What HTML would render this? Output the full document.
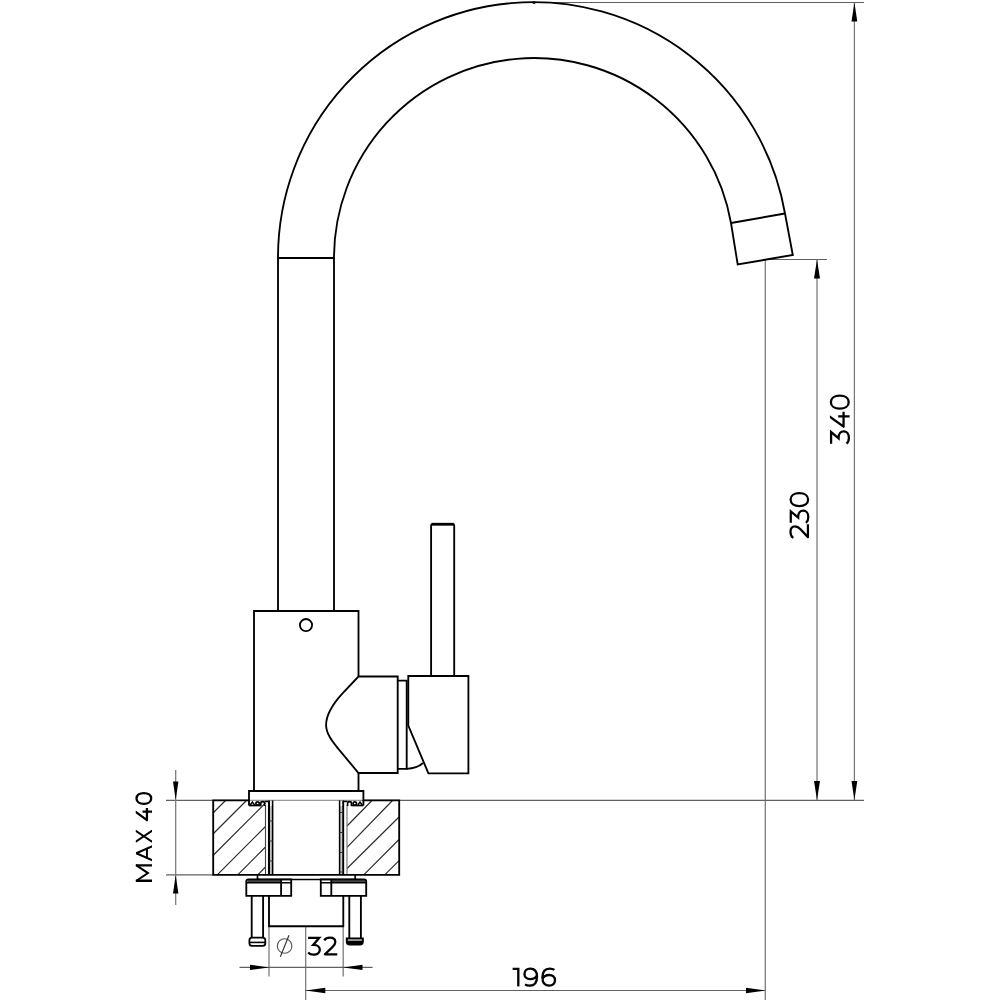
<!DOCTYPE html>
<html><head><meta charset="utf-8">
<style>
html,body{margin:0;padding:0;background:#fff;}
body{width:1000px;height:1000px;overflow:hidden;font-family:"Liberation Sans",sans-serif;}
svg{display:block;position:absolute;left:0;top:0;}
.m{fill:none;stroke:#000;stroke-width:1.85;stroke-linejoin:miter;stroke-linecap:butt;}
.d{fill:none;stroke:#787878;stroke-width:1.25;}
.h{fill:none;stroke:#2a2a2a;stroke-width:1.15;}
.a{fill:#000;stroke:none;}
.g{fill:none;stroke:#000;stroke-width:11.5;stroke-linecap:butt;stroke-linejoin:round;}
</style></head><body>
<svg width="1000" height="1000" viewBox="0 0 1000 1000">
<defs>
<clipPath id="cf"><rect x="-30" y="0" width="200" height="100"/></clipPath>
</defs>
<rect width="1000" height="1000" fill="#fff"/>

<!-- dimension / extension lines -->
<g class="d">
<path stroke="#606060" stroke-width="1.15" d="M533 2.5H864"/>
<path d="M854.4 2.5V800"/>
<path stroke="#606060" stroke-width="1.15" d="M765 259.5H827"/>
<path d="M765.3 259V1000"/>
<path d="M817 259.5V800"/>
<path stroke="#606060" stroke-width="1.15" d="M166 800.4H250M362 800.4H864"/>
<path stroke="#999" stroke-width="1.1" d="M250 800.4H362"/>
<path stroke="#606060" stroke-width="1.15" d="M166 874.8H213"/>
<path d="M175.7 770V905"/>
<path d="M269 926V976.5"/>
<path d="M343.2 926V976.5"/>
<path d="M305.7 926V1000"/>
<path stroke="#606060" stroke-width="1.15" d="M239.5 967.4H372.5"/>
<path stroke="#606060" stroke-width="1.15" d="M305.5 990.5H765"/>
</g>
<!-- arrowheads -->
<g class="a">
<path d="M854.4 2.5L851.5 21.5H857.3Z"/>
<path d="M854.4 800L851.5 781H857.3Z"/>
<path d="M817 259.5L814 278.5H820Z"/>
<path d="M817 800L814 781H820Z"/>
<path d="M175.7 800L173 781.5H178.4Z"/>
<path d="M175.7 875L173 893.5H178.4Z"/>
<path d="M269 967.4L250 964.7V970.1Z"/>
<path d="M343.2 967.4L362.5 964.7V970.1Z"/>
<path d="M305.7 990.5L325.3 987.8V993.2Z"/>
<path d="M765 990.5L746 987.8V993.2Z"/>
</g>

<!-- spout -->
<g class="m">
<path d="M278 611V258A255.42 255.42 0 0 1 785 213.5L792.8 255L737.7 264.5L731 223A200.05 200.05 0 0 0 334 258V611"/>
<path d="M278 258H334"/>
<path d="M731 223L785 213.5"/>
<!-- body -->
<path d="M358.5 676.5V611H254V791H358.5V773"/>
<circle cx="306" cy="625.1" r="6.1" stroke-width="1.8"/>
<!-- cartridge housing -->
<path d="M358.5 676.5H397.7V773H358.5L337.5 747.8C332 741 326.1 733.5 326.1 725C326.1 713 334.8 701.6 343 692.8Z"/>
<!-- ring -->
<path d="M397.7 680.6H406.7V768.8H397.7"/>
<path d="M406.7 768.8Q417 768.5 423 763" stroke-width="1.8"/>
<!-- handle -->
<path d="M408.3 676H468.4V773.3H428.4L408.3 725.6Z"/>
<!-- lever -->
<path d="M431.1 676V525.6Q431.1 524.2 432.5 524.2H452.8Q454.2 524.2 454.2 525.6V676"/>
<path d="M431.6 524.2H453.7" stroke-width="2.7"/>
<!-- flange -->
<path d="M249 805.5V791H363.4V805.5"/>
</g>

<circle cx="534" cy="2.5" r="1.6" fill="#111"/>
<!-- counter top hatch -->
<g class="h">
<path d="M213 813L225.5 800.5M213 834L246.5 800.5M213 855.5L265.5 803M217.5 874.6L265.5 826.5M238 874.6L265.5 847M258 874.6L265.5 867"/>
<path d="M347 826L372 800.5M347 847.3L392.5 800.5M347 868.5L399 817M364 874.6L399 839.5M385 874.6L399 860.7"/>
<path d="M265.5 805V874.6" stroke="#444"/><path d="M347 805V874.6" stroke="#777"/>
</g>
<!-- thread gap fill -->
<rect x="269.5" y="806" width="3" height="68.5" fill="#ccc"/>
<rect x="340" y="806" width="3" height="68.5" fill="#ccc"/>
<g class="m">
<path d="M249 800.4H213.2V874.8H399.2V800.4H363.4"/>
<path d="M269 800.6V874.8" stroke-width="2.1"/>
<path d="M272.6 800.4V874.8" stroke-width="1.6"/>
<path d="M343.2 800.6V874.8" stroke-width="1.9"/>
<path d="M339.6 800.4V874.8" stroke-width="1.5"/>
<path d="M269 821H272.6M269 841H272.6M269 861H272.6M339.6 812.5H343.2M339.6 832.5H343.2M339.6 852.5H343.2M339.6 872H343.2" stroke-width="1" stroke="#333"/>
<!-- gasket -->
<path d="M249 805.5H261" stroke-width="1.7"/>
<path d="M250.2 805L252.4 802L254.6 805" stroke-width="1.4"/>
<circle cx="257.6" cy="803.5" r="1.7" stroke-width="1.7"/>
<path d="M260.8 806V803.2Q260.8 801.6 262.7 801.6Q264.6 801.6 264.6 803.2V806" stroke-width="1.6"/>
<path d="M265 801.5H269.5" stroke-width="1.4"/>
<path d="M363.4 805.5H351.4" stroke-width="1.7"/>
<path d="M362.2 805L360 802L357.8 805" stroke-width="1.4"/>
<circle cx="354.8" cy="803.5" r="1.7" stroke-width="1.7"/>
<path d="M351.4 806V803.2Q351.4 801.6 349.5 801.6Q347.6 801.6 347.6 803.2V806" stroke-width="1.6"/>
<path d="M347.3 801.5H343" stroke-width="1.4"/>
<!-- washer -->
<path d="M257.5 875V879.4M355.2 875V879.4" stroke-width="1.7"/>
<path d="M257 879.4H356" stroke-width="1.5"/>
<!-- nuts -->
<rect x="247.6" y="879.6" width="33" height="3" fill="#444" stroke="none"/>
<rect x="331.4" y="879.6" width="33.6" height="3" fill="#444" stroke="none"/>
<path d="M246.3 895.9V881.6Q246.3 879.4 248.5 879.4H291.2V895.9Z"/>
<path d="M246.3 882.8H291.2" stroke-width="1.5"/>
<path d="M281.1 880V895.9"/>
<path d="M366.2 895.9V881.6Q366.2 879.4 364 879.4H320.8V895.9Z"/>
<path d="M320.8 882.8H366.2" stroke-width="1.5"/>
<path d="M331.3 880V895.9"/>
<!-- shank -->
<path d="M269 895.9V926.2H343.3V895.9"/>
<!-- bolts -->
<path d="M251.7 895.9V937.6M263.1 895.9V937.6"/>
<rect x="249.4" y="937.7" width="15.9" height="8.2" rx="2.6" stroke-width="1.8"/>
<path d="M249.5 942.4H265.2" stroke-width="1.6"/>
<path d="M349.3 895.9V938M360.9 895.9V938"/>
<path d="M346.6 938.2H363V941.5Q363 944.6 360 944.6H349.6Q346.6 944.6 346.6 941.5Z" fill="#000" stroke-width="1.6"/>
<rect x="347.8" y="939.2" width="14" height="1.7" fill="#aaa" stroke="none"/>
</g>

<!-- diameter symbol -->
<g fill="none">
<circle cx="284.6" cy="946" r="7.3" stroke="#555" stroke-width="1.1"/>
<path d="M280.3 956.9L289 935.2" stroke="#333" stroke-width="1.2"/>
</g>

<!-- text drawn as stroked glyphs -->
<g class="g" transform="translate(849.7 444.3) rotate(-90) scale(0.198) translate(0 -100)">
<path d="M3,6H62L30,44H34C53,44 65.5,55 65.5,70C65.5,86 52,96 33,96C20,96 9,91 3,84" stroke-linejoin="miter"/><g transform="translate(82 0)"><g clip-path="url(#cf)"><path d="M60,-4L7,69H82M59,42V101"/></g></g><g transform="translate(174 0)"><path d="M39,5C58.8,5 72,23 72,50C72,77 58.8,95 39,95C19.2,95 6,77 6,50C6,23 19.2,5 39,5Z"/></g>
</g>
<g class="g" transform="translate(809.1 538.7) rotate(-90) scale(0.195) translate(0 -100)">
<path d="M4,19C10,10 21,4.5 35,4.5C53,4.5 63.5,14 63.5,28C63.5,38 59,46 48,56L8,94H74"/><g transform="translate(78.5 0)"><path d="M3,6H62L30,44H34C53,44 65.5,55 65.5,70C65.5,86 52,96 33,96C20,96 9,91 3,84" stroke-linejoin="miter"/></g><g transform="translate(161.5 0)"><path d="M39,5C58.8,5 72,23 72,50C72,77 58.8,95 39,95C19.2,95 6,77 6,50C6,23 19.2,5 39,5Z"/></g>
</g>
<g class="g" transform="translate(152 881.9) rotate(-90) scale(0.163) translate(0 -100)" style="stroke-width:14">
<g clip-path="url(#cf)"><path d="M7,-1V101M101,-1V101"/><path d="M4,0L54,75L104,0" stroke-linejoin="miter" stroke-width="12.5"/></g><g transform="translate(126 0)"><g clip-path="url(#cf)"><path d="M5.8,102.5L49.5,3.5L93.2,102.5" stroke-linejoin="bevel" stroke-width="12.5"/><path d="M20,69H79" stroke-width="12"/></g></g><g transform="translate(239 0)"><g clip-path="url(#cf)"><path d="M6.5,-2L76.5,102M76.5,-2L6.5,102" stroke-width="12.5"/></g></g><g transform="translate(372 0)"><g clip-path="url(#cf)"><path d="M60,-4L7,69H82M59,42V101"/></g></g><g transform="translate(473 0)"><path d="M39,5C58.8,5 72,23 72,50C72,77 58.8,95 39,95C19.2,95 6,77 6,50C6,23 19.2,5 39,5Z"/></g>
</g>
<g class="g" style="stroke-width:12.3" transform="translate(307.6 955.4) scale(0.1865) translate(0 -100)">
<path d="M3,6H62L30,44H34C53,44 65.5,55 65.5,70C65.5,86 52,96 33,96C20,96 9,91 3,84" stroke-linejoin="miter"/><g transform="translate(85 0)"><path d="M4,19C10,10 21,4.5 35,4.5C53,4.5 63.5,14 63.5,28C63.5,38 59,46 48,56L8,94H74"/></g>
</g>
<g class="g" style="stroke-width:12.3" transform="translate(512.6 986.6) scale(0.19) translate(0 -100)">
<g clip-path="url(#cf)"><path d="M0,6H30V101" stroke-linejoin="miter"/></g><g transform="translate(56.5 0)"><path d="M36,5.5C58,5.5 72,20 72,48C72,78 58,95 34,95C24,95 15,92.5 9,88M36,5.5C18,5.5 6,17 6,33.5C6,50 18,61 36,61C54,61 70,51 71.5,38"/></g><g transform="translate(229 100) rotate(180)"><path d="M36,5.5C58,5.5 72,20 72,48C72,78 58,95 34,95C24,95 15,92.5 9,88M36,5.5C18,5.5 6,17 6,33.5C6,50 18,61 36,61C54,61 70,51 71.5,38"/></g>
</g>
</svg>
</body></html>
